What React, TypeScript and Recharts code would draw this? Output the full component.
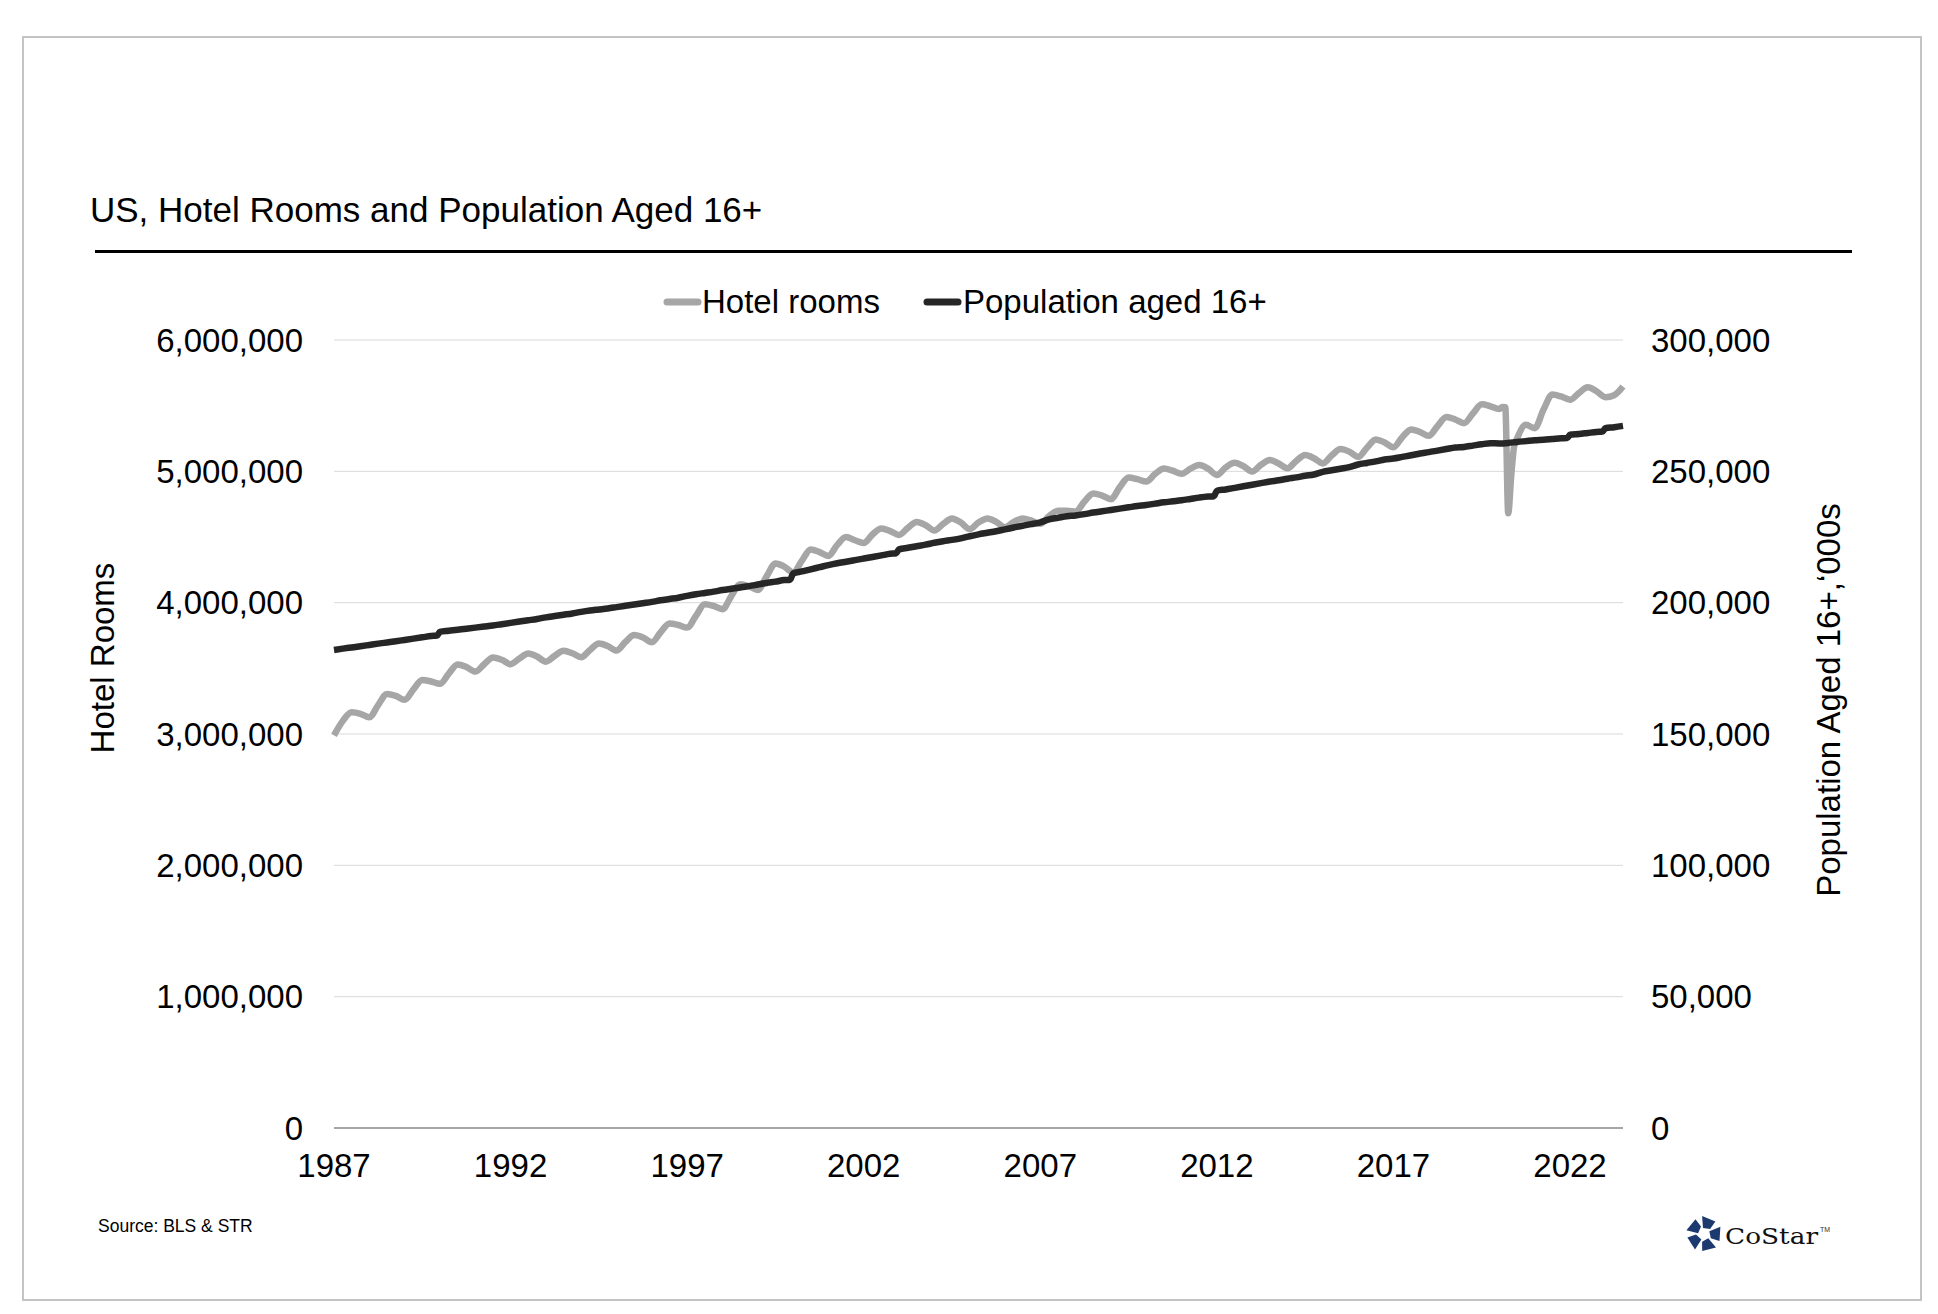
import React from "react";
import { CartesianGrid, Line, LineChart, XAxis, YAxis } from "recharts";

// quarterly readings (Jan, Apr, Jul, Oct) from 1987-01 to 2023-07
const FIRST_YEAR = 1987;
const QUARTER_MONTHS = [1, 4, 7, 10];
const LAST_PERIOD = "2023-07";

// hotel rooms, thousands
const hotelRooms = [
  2990, 3100, 3165, 3154, // 1987
  3128, 3220, 3305, 3290, // 1988
  3260, 3340, 3412, 3400, // 1989
  3382, 3460, 3530, 3510, // 1990
  3475, 3530, 3583, 3565, // 1991
  3532, 3575, 3613, 3590, // 1992
  3551, 3595, 3633, 3615, // 1993
  3585, 3640, 3689, 3670, // 1994
  3635, 3700, 3753, 3735, // 1995
  3699, 3775, 3842, 3830, // 1996
  3810, 3900, 3988, 3975, // 1997
  3950, 4050, 4140, 4125, // 1998
  4097, 4200, 4298, 4275, // 1999
  4230, 4320, 4405, 4385, // 2000
  4356, 4440, 4500, 4475, // 2001
  4455, 4520, 4565, 4545, // 2002
  4516, 4570, 4615, 4590, // 2003
  4549, 4600, 4641, 4610, // 2004
  4560, 4610, 4641, 4615, // 2005
  4575, 4615, 4641, 4625, // 2006
  4600, 4660, 4700, 4700, // 2007
  4694, 4770, 4832, 4815, // 2008
  4788, 4880, 4954, 4940, // 2009
  4922, 4980, 5022, 5005, // 2010
  4981, 5020, 5048, 5020, // 2011
  4973, 5030, 5065, 5040, // 2012
  4998, 5050, 5086, 5060, // 2013
  5024, 5080, 5124, 5100, // 2014
  5060, 5120, 5170, 5150, // 2015
  5110, 5180, 5243, 5220, // 2016
  5184, 5260, 5319, 5300, // 2017
  5270, 5345, 5413, 5395, // 2018
  5367, 5440, 5510, 5495, // 2019
  5474, 4681, 5250, 5354, // 2020
  5329, 5470, 5585, 5570, // 2021
  5545, 5596, 5640, 5610, // 2022
  5565, 5580, 5646, // 2023
];

// population aged 16+, thousands
const population = [
  182000, 182500, 182950, 183400, // 1987
  183900, 184400, 184850, 185300, // 1988
  185800, 186300, 186800, 187300, // 1989
  188900, 189300, 189700, 190100, // 1990
  190500, 190900, 191300, 191800, // 1991
  192300, 192800, 193300, 193800, // 1992
  194400, 194900, 195400, 195900, // 1993
  196500, 197000, 197400, 197800, // 1994
  198300, 198800, 199300, 199800, // 1995
  200300, 200900, 201400, 201900, // 1996
  202600, 203200, 203700, 204200, // 1997
  204800, 205300, 205800, 206300, // 1998
  206900, 207500, 208000, 208600, // 1999
  211100, 211900, 212700, 213500, // 2000
  214300, 215000, 215600, 216200, // 2001
  216800, 217400, 218000, 218600, // 2002
  220300, 220900, 221500, 222100, // 2003
  222800, 223400, 223900, 224500, // 2004
  225300, 226000, 226600, 227200, // 2005
  227900, 228600, 229300, 229900, // 2006
  230600, 231700, 232300, 232900, // 2007
  233200, 233700, 234300, 234800, // 2008
  235300, 235800, 236300, 236800, // 2009
  237200, 237700, 238200, 238600, // 2010
  239000, 239500, 240000, 240400, // 2011
  242600, 243100, 243700, 244300, // 2012
  244900, 245500, 246100, 246600, // 2013
  247200, 247700, 248300, 248800, // 2014
  249800, 250400, 251000, 251600, // 2015
  252600, 253200, 253800, 254500, // 2016
  254900, 255500, 256100, 256800, // 2017
  257300, 257900, 258500, 259100, // 2018
  259300, 259800, 260300, 260700, // 2019
  260600, 260800, 261200, 261500, // 2020
  261800, 262000, 262300, 262600, // 2021
  263900, 264200, 264600, 265000, // 2022
  266400, 266800, 267300, // 2023
];

// extra monthly readings around the 2020 dip and the January population revisions
const hotelExtraPeriods = ["2020-02", "2020-03", "2020-05", "2020-06"];
const hotelExtraRooms = [5490, 5488, 4960, 5190];
const popExtraPeriods = ["1989-12", "1999-12", "2002-12", "2011-12", "2021-12", "2022-12"];
const popExtraValues = [187450, 208750, 218800, 240550, 262700, 265150];

const xTicks = [1987, 1992, 1997, 2002, 2007, 2012, 2017, 2022];
const roomTicks = [0, 1000000, 2000000, 3000000, 4000000, 5000000, 6000000];
const popTicks = [0, 50000, 100000, 150000, 200000, 250000, 300000];

const FONT = "Arial, 'Liberation Sans', Helvetica, sans-serif";
const HOTEL_COLOR = "#a6a6a6";
const POP_COLOR = "#262626";

const toT = (p: string) => {
  const [y, m] = p.split("-").map(Number);
  return y + (m - 1) / 12;
};

const quarterPeriods: string[] = [];
for (let y = FIRST_YEAR; quarterPeriods[quarterPeriods.length - 1] !== LAST_PERIOD; y++) {
  for (const m of QUARTER_MONTHS) {
    const p = `${y}-${String(m).padStart(2, "0")}`;
    quarterPeriods.push(p);
    if (p === LAST_PERIOD) break;
  }
}

type Row = { t: number; hotel?: number; pop?: number };
const byPeriod = new Map<string, Row>();
const row = (p: string) => {
  if (!byPeriod.has(p)) byPeriod.set(p, { t: toT(p) });
  return byPeriod.get(p)!;
};
quarterPeriods.forEach((p, i) => {
  row(p).hotel = hotelRooms[i] * 1000;
  row(p).pop = population[i];
});
hotelExtraPeriods.forEach((p, i) => (row(p).hotel = hotelExtraRooms[i] * 1000));
popExtraPeriods.forEach((p, i) => (row(p).pop = popExtraValues[i]));
const data = [...byPeriod.values()].sort((a, b) => a.t - b.t);

const fmt = (v: number) => v.toLocaleString("en-US");
const tickStyle = { fontSize: 33, fill: "#000", fontFamily: FONT };

function Logo() {
  const cx = 1704;
  const cy = 1234;
  const pt = (r: number, deg: number) => {
    const a = (deg * Math.PI) / 180;
    return `${(cx + r * Math.cos(a)).toFixed(1)},${(cy + r * Math.sin(a)).toFixed(1)}`;
  };
  return (
    <g>
      {[0, 1, 2, 3, 4].map((k) => {
        const b = -100 + 72 * k;
        return (
          <polygon
            key={k}
            fill="#1d3a70"
            points={[pt(6, b), pt(18, b + 4), pt(17, b + 52), pt(8, b + 60)].join(" ")}
          />
        );
      })}
      <text x={1725} y={1244} fontFamily="'DejaVu Serif', 'Liberation Serif', serif" fontSize={23} textLength={93} lengthAdjust="spacingAndGlyphs" fill="#111">
        CoStar
      </text>
      <text x={1820} y={1232} fontFamily={FONT} fontSize={7} fill="#333">
        TM
      </text>
    </g>
  );
}

export default function App() {
  return (
    <div style={{ position: "relative", width: 1938, height: 1314, background: "#fff", overflow: "hidden" }}>
      <style>{"body{margin:0}"}</style>
      <div style={{ position: "absolute", left: 0, top: 0 }}>
        <LineChart width={1938} height={1314} data={data} margin={{ top: 340, right: 215, bottom: 126, left: 234 }}>
          <CartesianGrid yAxisId="rooms" vertical={false} stroke="#d9d9d9" strokeWidth={1} />
          <XAxis
            dataKey="t"
            type="number"
            domain={[1987, 2023.5]}
            ticks={xTicks}
            interval={0}
            height={60}
            tickLine={false}
            axisLine={{ stroke: "#a6a6a6", strokeWidth: 2 }}
            tickMargin={20}
            tick={tickStyle}
          />
          <YAxis
            yAxisId="rooms"
            orientation="left"
            width={100}
            domain={[0, 6000000]}
            ticks={roomTicks}
            interval={0}
            tickFormatter={fmt}
            axisLine={false}
            tickLine={false}
            tickMargin={25}
            tick={tickStyle}
          />
          <YAxis
            yAxisId="pop"
            orientation="right"
            width={100}
            domain={[0, 300000]}
            ticks={popTicks}
            interval={0}
            tickFormatter={fmt}
            axisLine={false}
            tickLine={false}
            tickMargin={22}
            tick={tickStyle}
          />
          <Line
            yAxisId="rooms"
            type="monotone"
            dataKey="hotel"
            name="Hotel rooms"
            stroke={HOTEL_COLOR}
            strokeWidth={6.5}
            strokeLinejoin="round"
            dot={false}
            connectNulls
            isAnimationActive={false}
          />
          <Line
            yAxisId="pop"
            type="monotone"
            dataKey="pop"
            name="Population aged 16+"
            stroke={POP_COLOR}
            strokeWidth={6.5}
            strokeLinejoin="round"
            dot={false}
            connectNulls
            isAnimationActive={false}
          />
        </LineChart>
      </div>
      <svg width={1938} height={1314} style={{ position: "absolute", left: 0, top: 0, pointerEvents: "none" }}>
        <rect x={23} y={37} width={1898} height={1263} fill="none" stroke="#c4c4c4" strokeWidth={2} />
        <text x={90} y={222} fontFamily={FONT} fontSize={35} fill="#000">
          US, Hotel Rooms and Population Aged 16+
        </text>
        <line x1={95} x2={1852} y1={251.5} y2={251.5} stroke="#000" strokeWidth={3} />

        <line x1={667} x2={698} y1={302} y2={302} stroke={HOTEL_COLOR} strokeWidth={7} strokeLinecap="round" />
        <text x={702} y={313} fontFamily={FONT} fontSize={33} fill="#000">
          Hotel rooms
        </text>
        <line x1={927} x2={958} y1={302} y2={302} stroke={POP_COLOR} strokeWidth={7} strokeLinecap="round" />
        <text x={963} y={313} fontFamily={FONT} fontSize={33} fill="#000">
          Population aged 16+
        </text>

        <text x={114} y={658} transform="rotate(-90 114 658)" textAnchor="middle" fontFamily={FONT} fontSize={33} fill="#000">
          Hotel Rooms
        </text>
        <text x={1840} y={700} transform="rotate(-90 1840 700)" textAnchor="middle" fontFamily={FONT} fontSize={33} fill="#000">
          Population Aged 16+,‘000s
        </text>

        <text x={98} y={1232} fontFamily={FONT} fontSize={17.5} fill="#000">
          Source: BLS &amp; STR
        </text>
        <Logo />
      </svg>
    </div>
  );
}
